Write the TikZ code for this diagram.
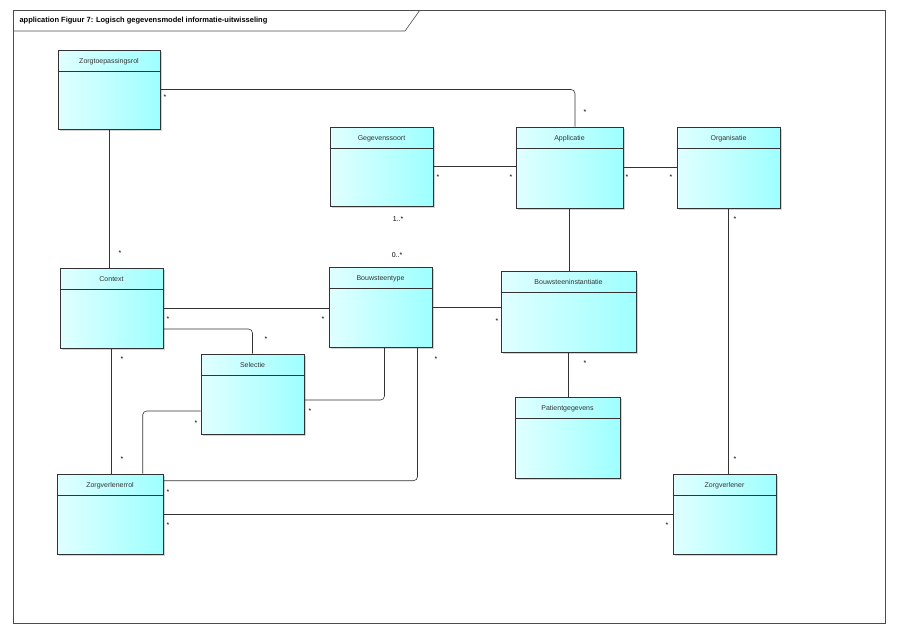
\documentclass[tikz,border=0pt]{standalone}
\usepackage{fontspec}
\setmainfont{Liberation Sans}
\usetikzlibrary{positioning,shadows,calc}
\tikzset{
  cls/.style={draw=black!80, line width=0.6pt, left color=cyan!12, right color=cyan!38,
    drop shadow={shadow xshift=2pt, shadow yshift=-2pt, opacity=0.35}, inner sep=0pt},
  hd/.style={font=\fontsize{7}{8}\selectfont, text=black!80, below=5pt},
  conn/.style={draw=black!80, line width=0.6pt, rounded corners=4pt},
  mult/.style={font=\fontsize{7}{8}\selectfont, inner sep=0pt}
}
\begin{document}
\begin{tikzpicture}[x=1pt,y=-1pt]
\useasboundingbox (0,0) rectangle (900,633);
% frame and tab
\draw[black!70, line width=0.6pt] (13,10) rectangle (885,623);
\draw[black!70, line width=0.6pt] (13,31) -- (405,31) -- (420,10);
\node[anchor=west, font=\bfseries\fontsize{7.5}{9}\selectfont] (title) at (16,20.5)
  {application Figuur 7: Logisch gegevensmodel informatie-uitwisseling};

% classes: name/x1/y1/x2/y2/label
\foreach \n/\xa/\ya/\xb/\yb/\t in {
  zt/58/50/160/129/Zorgtoepassingsrol,
  gs/330/127/433/206/Gegevenssoort,
  ap/516/127/623/208/Applicatie,
  org/677/127/780/208/Organisatie,
  ctx/60/268/163/348/Context,
  bt/329/267/432/347/Bouwsteentype,
  bi/501/271/636/352/Bouwsteeninstantiatie,
  sel/201/354/304/434/Selectie,
  pg/515/397/620/478/Patientgegevens,
  zvr/57/474/163/554/Zorgverlenerrol,
  zv/673/474/776/554/Zorgverlener} {
  \pgfmathsetmacro\w{\xb-\xa}
  \pgfmathsetmacro\h{\yb-\ya}
  \node[cls, minimum width=\w pt, minimum height=\h pt] (\n) at ({(\xa+\xb)/2},{(\ya+\yb)/2}) {};
  \node[hd] (\n-t) at (\n.north) {\t};
  \draw[black!80, line width=0.6pt] ([yshift=-22pt]\n.north west) -- ([yshift=-22pt]\n.north east);
}

% associations
\draw[conn] (zt.east) -| ([xshift=5.5pt]ap.north);
\draw[conn] (zt.south) -- (zt.south |- ctx.north);
\draw[conn] (gs.east) -- (gs.east -| ap.west);
\draw[conn] (gs.south) -- (gs.south -| bt.north);
\draw[conn] (ap.east) -- (ap.east -| org.west);
\draw[conn] (ap.south) -- (ap.south |- bi.north);
\draw[conn] (ctx.east) -- (ctx.east -| bt.west);
\draw[conn] ([yshift=-21pt]ctx.east) -| (sel.north);
\draw[conn] (ctx.south) -- (ctx.south |- zvr.north);
\draw[conn] (bt.east) -- (bt.east -| bi.west);
\draw[conn] ([xshift=4pt]bt.south) |- ([yshift=-6pt]sel.east);
\draw[conn] ([xshift=37pt]bt.south) |- ([yshift=-7pt]zvr.north east);
\draw[conn] ([yshift=-17pt]sel.west) -| ([xshift=86pt]zvr.north west);
\draw[conn] (bi.south) -- (bi.south |- pg.north);
\draw[conn] (org.south) -- (org.south |- zv.north);
\draw[conn] (zvr.east) -- (zvr.east -| zv.west);

% multiplicities
\foreach \x/\y/\m [count=\i] in {165/97/*, 585/112/*, 120/253/*, 438/177/*, 511/177/*,
  398/219/1..*, 397/255/0..*, 627/177/*, 671/177/*, 168/319/*, 323/319/*, 266/339/*,
  122/359/*, 122/459/*, 497/321/*, 310/411/*, 436/359/*, 168/492/*, 196/423/*,
  585/363/*, 735/219/*, 735/459/*, 168/525/*, 667/525/*}
  \node[mult] (m\i) at (\x,\y) {\m};
\end{tikzpicture}
\end{document}
